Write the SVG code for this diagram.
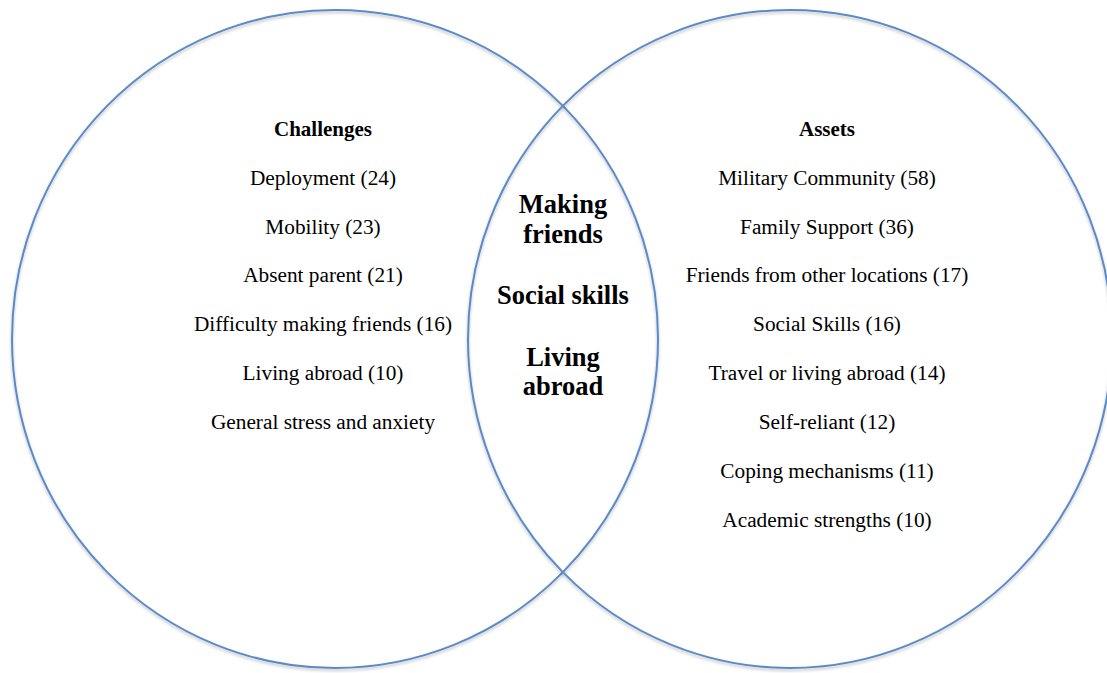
<svg xmlns="http://www.w3.org/2000/svg" width="1107" height="673" viewBox="0 0 1107 673">
  <style>
    .ring { fill: none; stroke: #5A8BC8; stroke-width: 2; filter: url(#soft); }
    .head { font-family: "Liberation Serif", "Times New Roman", serif; font-weight: bold; font-size: 21px; fill: #000; text-anchor: middle; }
    .item { font-family: "Liberation Serif", "Times New Roman", serif; font-size: 21.3px; fill: #000; text-anchor: middle; }
    .core { font-family: "Liberation Serif", "Times New Roman", serif; font-weight: bold; font-size: 26.5px; fill: #000; text-anchor: middle; }
  </style>
  <defs>
    <filter id="soft" x="-5%" y="-5%" width="110%" height="110%">
      <feDropShadow dx="0" dy="2" stdDeviation="1.5" flood-color="#000" flood-opacity="0.25"/>
    </filter>
  </defs>
  <rect width="1107" height="673" fill="#fff"/>

  <!-- the two overlapping sets -->
  <g id="circle-challenges">
    <ellipse class="ring" cx="335" cy="339" rx="323" ry="329"/>
  </g>
  <g id="circle-assets">
    <ellipse class="ring" cx="790" cy="339" rx="322" ry="329"/>
  </g>

  <!-- left set: challenges -->
  <g id="challenges">
    <text class="head" x="323" y="136">Challenges</text>
    <text class="item" x="323" y="185">Deployment (24)</text>
    <text class="item" x="323" y="234">Mobility (23)</text>
    <text class="item" x="323" y="282">Absent parent (21)</text>
    <text class="item" x="323" y="331">Difficulty making friends (16)</text>
    <text class="item" x="323" y="380">Living abroad (10)</text>
    <text class="item" x="323" y="429">General stress and anxiety</text>
  </g>

  <!-- overlap: shared themes -->
  <g id="shared">
    <text class="core" x="563" y="213">Making</text>
    <text class="core" x="563" y="243">friends</text>
    <text class="core" x="563" y="304">Social skills</text>
    <text class="core" x="563" y="366">Living</text>
    <text class="core" x="563" y="395">abroad</text>
  </g>

  <!-- right set: assets -->
  <g id="assets">
    <text class="head" x="827" y="136">Assets</text>
    <text class="item" x="827" y="185">Military Community (58)</text>
    <text class="item" x="827" y="234">Family Support (36)</text>
    <text class="item" x="827" y="282">Friends from other locations (17)</text>
    <text class="item" x="827" y="331">Social Skills (16)</text>
    <text class="item" x="827" y="380">Travel or living abroad (14)</text>
    <text class="item" x="827" y="429">Self-reliant (12)</text>
    <text class="item" x="827" y="478">Coping mechanisms (11)</text>
    <text class="item" x="827" y="527">Academic strengths (10)</text>
  </g>

  <!-- connectors: none in this diagram -->
  <g id="connectors"/>
</svg>
